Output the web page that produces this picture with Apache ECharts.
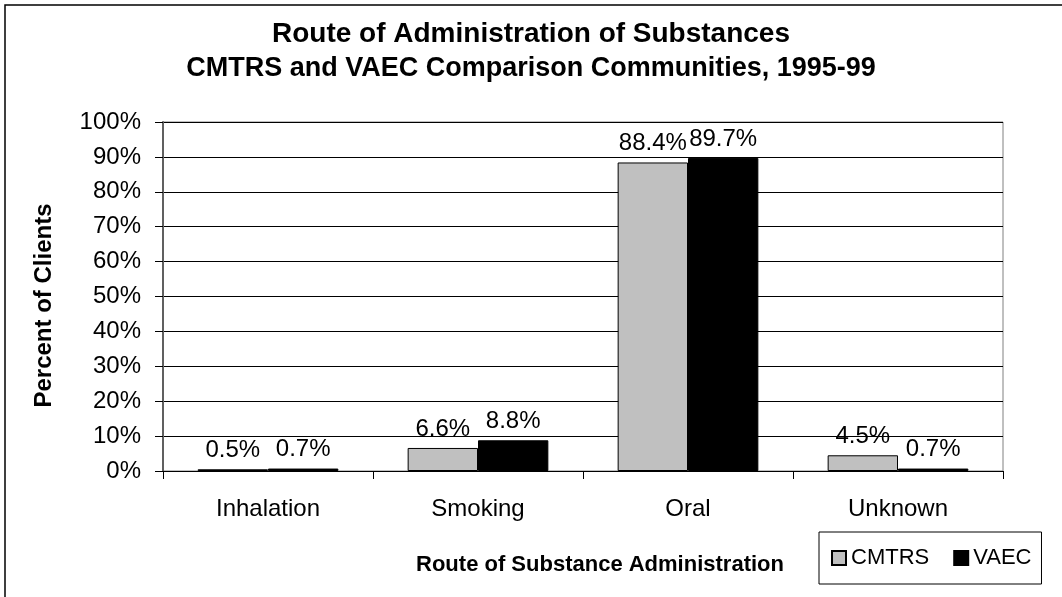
<!DOCTYPE html>
<html>
<head>
<meta charset="utf-8">
<script src="https://cdn.jsdelivr.net/npm/echarts@6/dist/echarts.min.js"></script>
<style>
  html, body { margin: 0; padding: 0; background: #fff; }
  #chart { width: 1062px; height: 597px; }
</style>
</head>
<body>
<div id="chart"></div>
<script>
const CATEGORIES = ['Inhalation', 'Smoking', 'Oral', 'Unknown'];
const CMTRS = [0.5, 6.6, 88.4, 4.5];
const VAEC = [0.7, 8.8, 89.7, 0.7];
const SERIES_NAMES = ['CMTRS', 'VAEC'];
const FONT = '"Liberation Sans", Arial, sans-serif';

const chart = echarts.init(document.getElementById('chart'));

// 柱子上的百分比标签
const barLabel = {
    show: true,
    position: 'top',
    distance: 7,
    color: '#000',
    fontSize: 24,
    fontFamily: FONT,
    formatter: p => p.value.toFixed(1) + '%'
};

chart.setOption({
    animation: false,
    title: [
        {
            text: 'Route of Administration of Substances',
            left: 'center',
            top: 15,
            textStyle: {fontSize: 28, fontWeight: 'bold', fontFamily: FONT, color: '#000'}
        },
        {
            text: 'CMTRS and VAEC Comparison Communities, 1995-99',
            left: 'center',
            top: 50,
            textStyle: {fontSize: 27, fontWeight: 'bold', fontFamily: FONT, color: '#000'}
        }
    ],
    graphic: [
        {
            type: 'rect',
            shape: {x: 5, y: 5, width: 1070, height: 610},
            style: {fill: 'none', stroke: '#000', lineWidth: 1.5},
            silent: true
        }
    ],
    legend: {
        data: SERIES_NAMES,
        left: 819,
        top: 532,
        padding: [15, 10, 15, 12],
        itemGap: 24,
        itemWidth: 14,
        itemHeight: 14,
        borderColor: '#000',
        borderWidth: 1,
        icon: 'rect',
        textStyle: {fontSize: 22, fontFamily: FONT, color: '#000'}
    },
    grid: {
        left: 163,
        right: 59,
        top: 122,
        bottom: 126,
        show: true,
        borderColor: '#808080',
        borderWidth: 1
    },
    xAxis: {
        type: 'category',
        data: CATEGORIES,
        name: 'Route of Substance Administration',
        nameLocation: 'middle',
        nameGap: 83,
        nameTextStyle: {fontSize: 22, fontWeight: 'bold', fontFamily: FONT, color: '#000', padding: [0, 0, 0, 34]},
        axisLine: {lineStyle: {color: '#000', width: 1}},
        axisTick: {show: true, length: 8, lineStyle: {color: '#000'}},
        axisLabel: {fontSize: 24, fontFamily: FONT, color: '#000', margin: 26}
    },
    yAxis: {
        type: 'value',
        min: 0,
        max: 100,
        interval: 10,
        name: 'Percent of Clients',
        nameLocation: 'middle',
        nameGap: 107,
        nameTextStyle: {fontSize: 24, fontWeight: 'bold', fontFamily: FONT, color: '#000', padding: [0, 18, 0, 0]},
        axisLine: {show: true, lineStyle: {color: '#606060', width: 2}},
        axisTick: {show: true, length: 8, lineStyle: {color: '#000'}},
        axisLabel: {fontSize: 24, fontFamily: FONT, color: '#000', margin: 22, formatter: '{value}%'},
        splitLine: {lineStyle: {color: '#000', width: 1}}
    },
    series: [
        {
            name: SERIES_NAMES[0],
            type: 'bar',
            data: CMTRS,
            barGap: '0%',
            barCategoryGap: '33%',
            itemStyle: {color: '#c0c0c0', borderColor: '#000', borderWidth: 1},
            label: barLabel
        },
        {
            name: SERIES_NAMES[1],
            type: 'bar',
            data: VAEC,
            itemStyle: {color: '#000', borderColor: '#000', borderWidth: 1},
            label: barLabel
        }
    ]
});
</script>
</body>
</html>
